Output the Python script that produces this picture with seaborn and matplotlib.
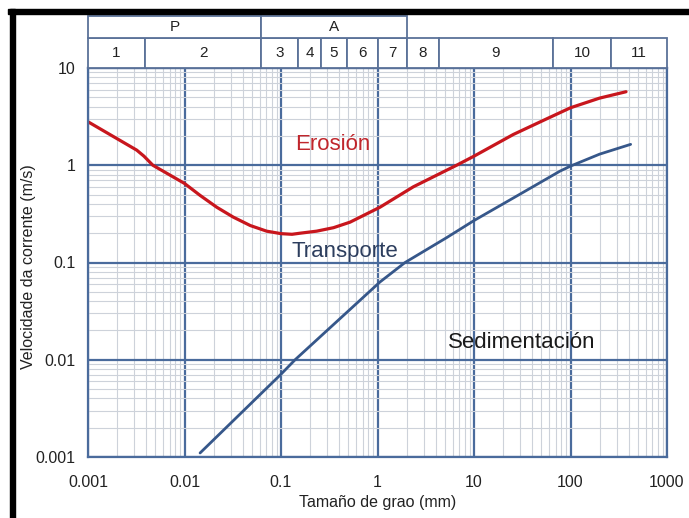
import numpy as np
import pandas as pd
import seaborn as sns
import matplotlib.pyplot as plt
from matplotlib.patches import Rectangle
from matplotlib.ticker import LogLocator, NullFormatter, FixedLocator, FixedFormatter

# erosion curve (grain size mm -> velocity m/s)
erosion_size = [0.001, 0.0032, 0.0038, 0.0047, 0.01, 0.0145, 0.0216, 0.032, 0.048, 0.071,
                0.1, 0.13, 0.157, 0.234, 0.35, 0.52, 1.06, 2.35, 6.6, 10, 25.5,
                56.6, 100, 200, 376]
erosion_vel = [2.8, 1.43, 1.24, 1.0, 0.65, 0.49, 0.37, 0.293, 0.24, 0.21,
               0.198, 0.195, 0.2, 0.21, 0.228, 0.26, 0.37, 0.6, 1.0, 1.24, 2.07,
               3.0, 3.9, 4.9, 5.7]

# transport / sedimentation limit
transport_size = [0.0145, 0.1, 0.14, 1.06, 1.93, 5.2, 10, 25.5, 77.8, 100, 200, 420]
transport_vel = [0.0011, 0.0071, 0.01, 0.063, 0.1, 0.18, 0.27, 0.46, 0.87, 0.98, 1.3, 1.64]

# grain size classes shown in the header
class_edges = [0.001, 0.0039, 0.0625, 0.15, 0.26, 0.48, 1, 2, 4.3, 66, 262, 1000]
class_names = ['1', '2', '3', '4', '5', '6', '7', '8', '9', '10', '11']
group_edges = [0.001, 0.0625, 2]
group_names = ['P', 'A']

decades = [0.001, 0.01, 0.1, 1, 10, 100, 1000]
decade_labels = ['0.001', '0.01', '0.1', '1', '10', '100', '1000']

major_col = '#4a6b9c'
minor_col = '#cdd2da'

sns.set_style('white')
plt.rcParams['font.family'] = ['Liberation Sans', 'DejaVu Sans']

df_ero = pd.DataFrame({'size': erosion_size, 'vel': erosion_vel})
df_tra = pd.DataFrame({'size': transport_size, 'vel': transport_vel})

fig = plt.figure(figsize=(6.89, 5.18), dpi=100)
ax = fig.add_axes([88/689, 61/518, 579/689, 389/518])
ax.set(xscale='log', yscale='log')

sns.lineplot(data=df_ero, x='size', y='vel', color='#c8161d', lw=2.3, ax=ax, sort=False)
sns.lineplot(data=df_tra, x='size', y='vel', color='#36578a', lw=2.0, ax=ax, sort=False)

ax.set_xlim(0.001, 1000)
ax.set_ylim(0.001, 10)

ax.xaxis.set_major_locator(FixedLocator(decades))
ax.xaxis.set_major_formatter(FixedFormatter(decade_labels))
ax.yaxis.set_major_locator(FixedLocator(decades[:5]))
ax.yaxis.set_major_formatter(FixedFormatter(decade_labels[:5]))
for axis in (ax.xaxis, ax.yaxis):
    axis.set_minor_locator(LogLocator(base=10, subs=np.arange(2, 10), numticks=20))
    axis.set_minor_formatter(NullFormatter())

ax.grid(which='minor', color=minor_col, lw=0.8, zorder=0)
ax.grid(which='major', color=major_col, lw=1.6, zorder=1)
ax.set_axisbelow(True)
ax.tick_params(which='both', length=0, labelsize=11.5, colors='#222222')
ax.tick_params(axis='x', pad=13)
ax.tick_params(axis='y', pad=9)
for sp in ax.spines.values():
    sp.set_color(major_col)
    sp.set_linewidth(1.6)

ax.set_xlabel('Tamaño de grao (mm)', fontsize=11.5, color='#222222')
ax.set_ylabel('Velocidade da corrente (m/s)', fontsize=11.5, color='#222222')
ax.xaxis.set_label_coords(0.5, -0.098)
ax.yaxis.set_label_coords(-0.089, 0.49)

ax.text(0.14, 1.65, 'Erosión', color='#c0262c', fontsize=16, va='center')
ax.text(0.13, 0.13, 'Transporte', color='#2d3e5e', fontsize=16, va='center')
ax.text(5.4, 0.015, 'Sedimentación', color='#1a1a1a', fontsize=16, va='center')

# header with grain size classes
hax = fig.add_axes([88/689, 450/518, 579/689, 52/518])
hax.set_xscale('log')
hax.set_xlim(0.001, 1000)
hax.set_ylim(0, 1)
hax.axis('off')
row = 30/52
for x0, x1, name in zip(class_edges[:-1], class_edges[1:], class_names):
    hax.add_patch(Rectangle((x0, 0), x1 - x0, row, facecolor='white',
                            edgecolor='#5b7299', lw=1.3, clip_on=False))
    hax.text(np.sqrt(x0 * x1), row / 2, name, ha='center', va='center', fontsize=11, color='#222222')
for x0, x1, name in zip(group_edges[:-1], group_edges[1:], group_names):
    hax.add_patch(Rectangle((x0, row), x1 - x0, 1 - row, facecolor='white',
                            edgecolor='#5b7299', lw=1.3, clip_on=False))
    hax.text(np.sqrt(x0 * x1), (1 + row) / 2, name, ha='center', va='center', fontsize=11, color='#222222')

# black frame on the left and top of the picture
fig.add_artist(Rectangle((10/689, 0), 5/689, 509/518, transform=fig.transFigure, color='black'))
fig.add_artist(Rectangle((8/689, 504/518), 681/689, 5/518, transform=fig.transFigure, color='black'))

fig.savefig('out.png', dpi=100)
